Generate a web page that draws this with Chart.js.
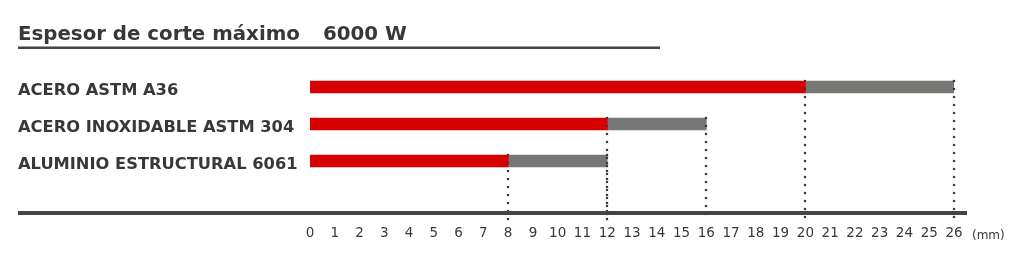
<!DOCTYPE html>
<html>
<head>
<meta charset="utf-8">
<script src="https://cdn.jsdelivr.net/npm/chart.js@4"></script>
<style>
  html, body { margin: 0; padding: 0; background: #fff; }
  #wrap { width: 1024px; height: 270px; }
</style>
</head>
<body>
<div id="wrap"><canvas id="cutChart" width="1024" height="270"></canvas></div>
<script>
// Data
const materials = ['ACERO ASTM A36', 'ACERO INOXIDABLE ASTM 304', 'ALUMINIO ESTRUCTURAL 6061'];
const recommended = [20, 12, 8];   // red part (mm)
const maximum = [26, 16, 12];      // end of grey part (mm)
const titleText = 'Espesor de corte máximo';
const powerText = '6000 W';
const unitText = '(mm)';

const FONT = '"DejaVu Sans", sans-serif';
const DARK = '#383838';

// dotted guide lines, axis line, title, unit label
const decorations = {
    id: 'decorations',
    afterDatasetsDraw(chart) {
        const ctx = chart.ctx;
        const x = chart.scales.x, y = chart.scales.y;
        const axisY = chart.chartArea.bottom + 33.5;
        ctx.save();
        ctx.strokeStyle = '#3a3a3a';
        ctx.lineWidth = 2.6;
        ctx.lineCap = 'round';
        ctx.setLineDash([0, 8]);
        materials.forEach(function(m, i) {
            const top = y.getPixelForValue(i) - 6;
            [recommended[i], maximum[i]].forEach(function(v) {
                const px = Math.round(x.getPixelForValue(v));
                ctx.beginPath();
                ctx.moveTo(px, top);
                ctx.lineTo(px, axisY + 8);
                ctx.stroke();
            });
        });
        ctx.restore();

        // baseline axis
        ctx.save();
        ctx.fillStyle = '#444';
        ctx.fillRect(18, axisY - 2, 967 - 18, 4);

        // unit
        ctx.fillStyle = DARK;
        ctx.font = '12px ' + FONT;
        ctx.textBaseline = 'middle';
        ctx.textAlign = 'left';
        ctx.fillText(unitText, x.right + 18, axisY + 23);

        // title + underline
        ctx.font = 'bold 19.8px ' + FONT;
        ctx.textBaseline = 'alphabetic';
        ctx.fillText(titleText, 18, 40);
        ctx.fillText(powerText, 323, 40);
        ctx.fillStyle = '#444';
        ctx.fillRect(18, 46.5, 660 - 18, 2.5);
        ctx.restore();
    }
};

new Chart(document.getElementById('cutChart'), {
    type: 'bar',
    data: {
        labels: materials,
        datasets: [{
            label: 'Recomendado',
            data: recommended,
            backgroundColor: '#d70000',
            barThickness: 12
        }, {
            label: 'Máximo',
            data: maximum.map(function(v, i) { return v - recommended[i]; }),
            backgroundColor: '#777776',
            barThickness: 12
        }]
    },
    options: {
        indexAxis: 'y',
        responsive: false,
        animation: false,
        layout: { padding: { left: 18, top: 68.5, right: 70, bottom: 0 } },
        plugins: {
            legend: { display: false },
            tooltip: { enabled: false }
        },
        scales: {
            x: {
                stacked: true,
                min: 0,
                max: 26,
                grid: { display: false, drawTicks: false },
                border: { display: false },
                afterFit: function(s) { s.height = 90.5; },
                ticks: {
                    stepSize: 1,
                    autoSkip: false,
                    maxRotation: 0,
                    padding: 46,
                    color: DARK,
                    font: { family: FONT, size: 13.5 }
                }
            },
            y: {
                stacked: true,
                grid: { display: false, drawTicks: false },
                border: { display: false },
                afterFit: function(s) { s.width = 292; },
                ticks: {
                    crossAlign: 'far',
                    padding: 0,
                    labelOffset: 4,
                    color: DARK,
                    font: { family: FONT, size: 16.3, weight: 'bold' }
                }
            }
        }
    },
    plugins: [decorations]
});
</script>
</body>
</html>
